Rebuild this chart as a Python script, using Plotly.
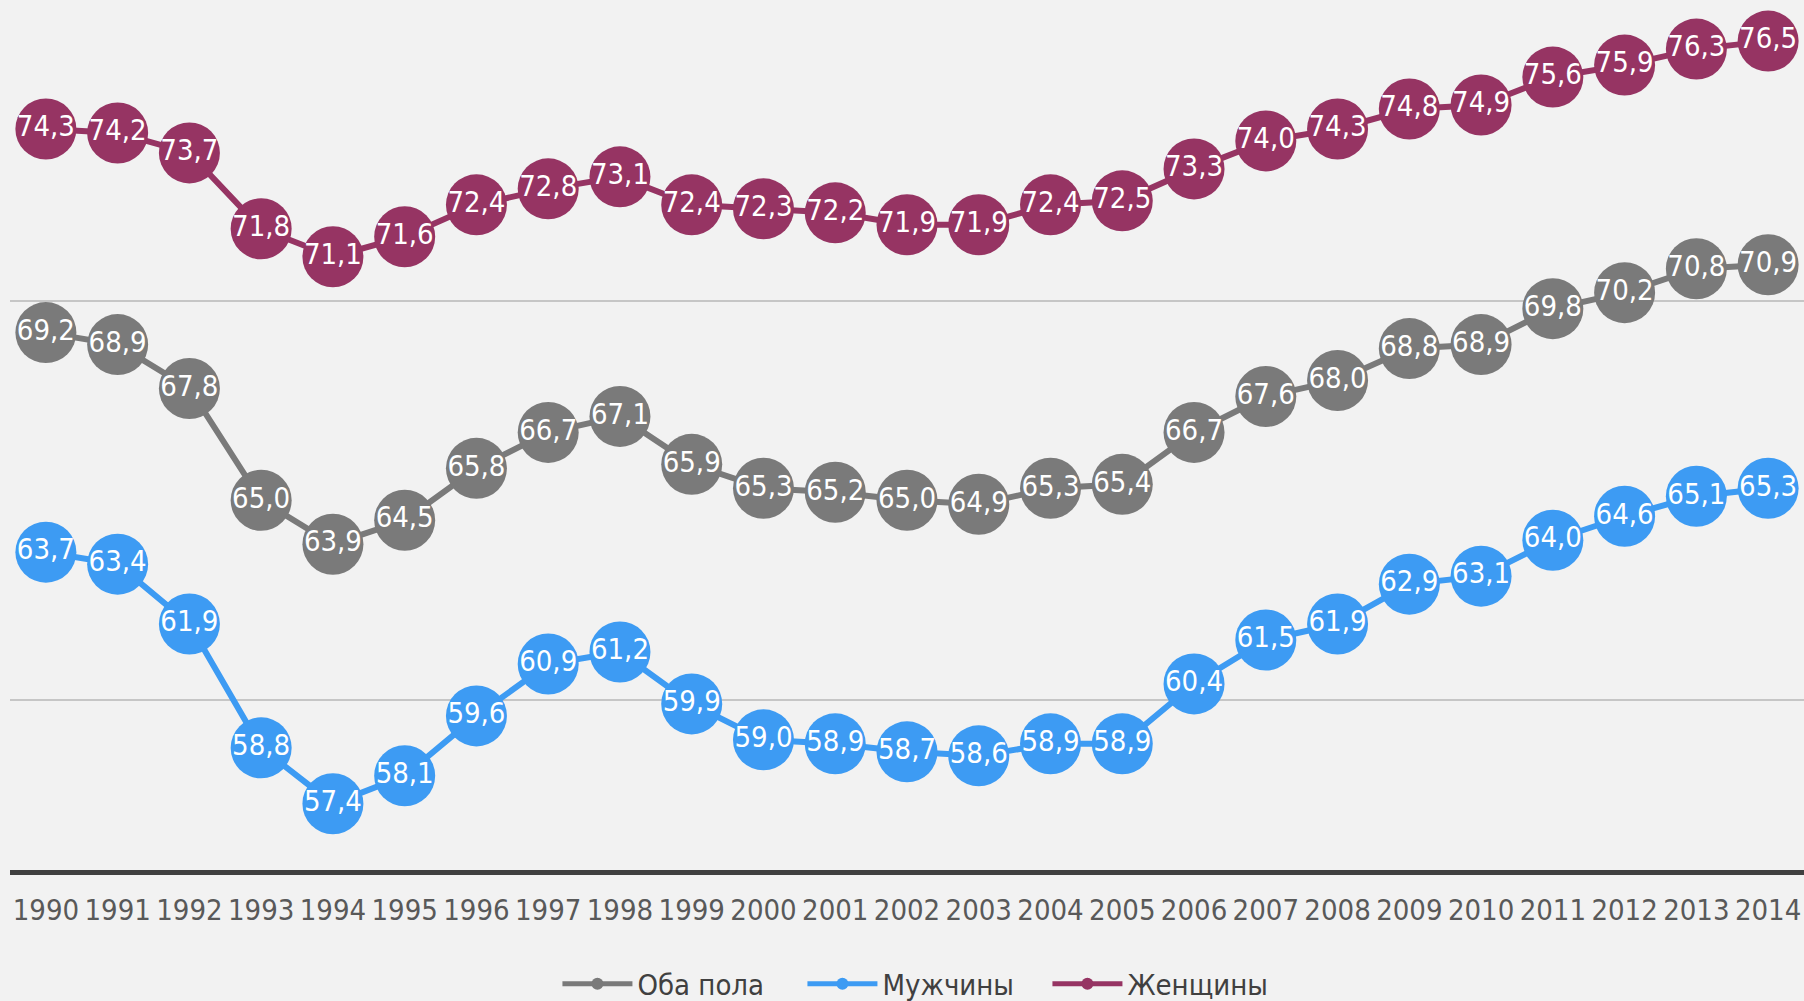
import plotly.graph_objects as go

years = [str(y) for y in range(1990, 2015)]
both = [69.2, 68.9, 67.8, 65.0, 63.9, 64.5, 65.8, 66.7, 67.1, 65.9, 65.3, 65.2, 65.0,
        64.9, 65.3, 65.4, 66.7, 67.6, 68.0, 68.8, 68.9, 69.8, 70.2, 70.8, 70.9]
men = [63.7, 63.4, 61.9, 58.8, 57.4, 58.1, 59.6, 60.9, 61.2, 59.9, 59.0, 58.9, 58.7,
       58.6, 58.9, 58.9, 60.4, 61.5, 61.9, 62.9, 63.1, 64.0, 64.6, 65.1, 65.3]
women = [74.3, 74.2, 73.7, 71.8, 71.1, 71.6, 72.4, 72.8, 73.1, 72.4, 72.3, 72.2, 71.9,
         71.9, 72.4, 72.5, 73.3, 74.0, 74.3, 74.8, 74.9, 75.6, 75.9, 76.3, 76.5]

series = [
    ("Оба пола", both, "#7a7a7a"),
    ("Мужчины", men, "#3d9bf3"),
    ("Женщины", women, "#963463"),
]

FONT = "DejaVu Sans Condensed, Liberation Sans Narrow, sans-serif"

fig = go.Figure()
for name, vals, color in series:
    fig.add_trace(go.Scatter(
        x=years, y=vals, name=name, mode="lines+markers+text",
        line=dict(color=color, width=6),
        marker=dict(color=color, size=61, line=dict(width=0)),
        texttemplate="%{y:.1f}", textposition="middle center",
        textfont=dict(color="white", size=29, family=FONT),
        cliponaxis=False,
    ))

fig.update_layout(
    width=1804, height=1001,
    margin=dict(l=10, r=0, t=0, b=131, autoexpand=False),
    paper_bgcolor="#f2f2f2", plot_bgcolor="#f2f2f2",
    separators=",.",
    showlegend=True,
    legend=dict(orientation="h", x=0.510, xanchor="center", y=-0.1310, yanchor="middle",
                font=dict(size=29, family=FONT, color="#404040"),
                itemsizing="constant", itemwidth=70, entrywidth=160,
                entrywidthmode="pixels", bgcolor="rgba(0,0,0,0)"),
    xaxis=dict(type="category", range=[-0.5, 24.5], showgrid=False, zeroline=False,
               showline=True, linecolor="#404040", linewidth=5, ticks="",
               tickangle=0, ticklabelstandoff=10,
               tickfont=dict(size=29, family=FONT, color="#595959")),
    yaxis=dict(range=[55.74, 77.53], dtick=10, showticklabels=False,
               showgrid=True, gridcolor="#c6c6c6", gridwidth=2, zeroline=False),
)

fig.write_html(
    "out.html",
    config={"displayModeBar": False},
    post_script=("document.documentElement.style.overflow='hidden';"
                 "document.body.style.margin='0';"
                 "document.body.style.overflow='hidden';"),
)
